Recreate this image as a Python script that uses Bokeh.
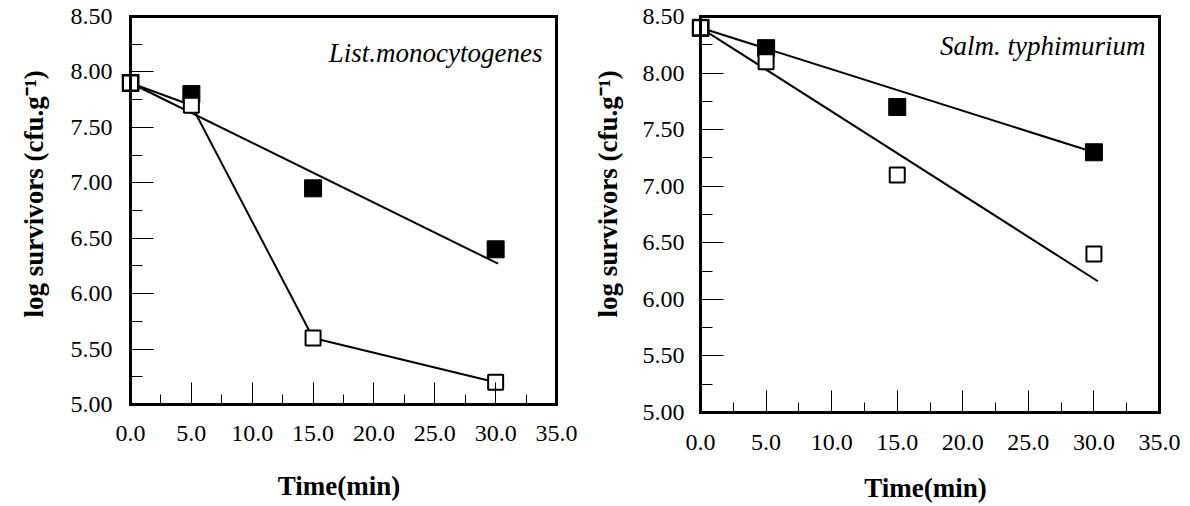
from bokeh.plotting import figure
from bokeh.layouts import row
from bokeh.models import (LinearAxis, Range1d, SingleIntervalTicker, PrintfTickFormatter,
                          FixedTicker, Label, Title, ColumnDataSource)
from bokeh.embed import file_html
from bokeh.resources import INLINE

# ---------------- data ----------------
time_min = [0, 5, 15, 30]

# List. monocytogenes
listeria_filled = [7.90, 7.80, 6.95, 6.40]
listeria_open = [7.90, 7.70, 5.60, 5.20]
listeria_fit_time = [0, 30.2]
listeria_fit_logs = [7.90, 6.27]

# Salm. typhimurium
salmonella_filled = [8.40, 8.22, 7.70, 7.30]
salmonella_open = [8.40, 8.10, 7.10, 6.40]
salmonella_fit_filled_time = [0, 30]
salmonella_fit_filled_logs = [8.40, 7.30]
salmonella_fit_open_time = [0, 30.3]
salmonella_fit_open_logs = [8.40, 6.16]

titles = ["List.monocytogenes", "Salm. typhimurium"]
x_label = "Time(min)"
y_label = "log survivors (cfu.g\u207b\u00b9)"

FONT = "Liberation Serif"


def make_panel(title, filled, open_, fit_lines, connect_open, frame_w, frame_h, x_pad,
               b_left, b_right, b_bottom, y_std, x_std, xl_std, yl_std, yl_off, title_dy):
    p = figure(frame_width=frame_w, frame_height=frame_h,
               x_range=Range1d(-x_pad, 35), y_range=Range1d(5, 8.5),
               x_axis_location=None, y_axis_location=None,
               toolbar_location=None, output_backend="svg",
               min_border_left=b_left, min_border_right=b_right,
               min_border_top=16, min_border_bottom=b_bottom,
               background_fill_color="white", border_fill_color="white",
               outline_line_color=None)
    p.grid.visible = False

    yticker = SingleIntervalTicker(interval=0.5, num_minor_ticks=2)

    # bottom axis
    xa = LinearAxis(ticker=SingleIntervalTicker(interval=5, num_minor_ticks=2),
                    formatter=PrintfTickFormatter(format="%.1f"),
                    bounds=(0, 35), axis_label=x_label)
    xa.major_label_text_font = FONT
    xa.major_label_text_font_size = "24px"
    xa.major_label_text_color = "black"
    xa.axis_label_text_font = FONT
    xa.axis_label_text_font_size = "27px"
    xa.axis_label_text_font_style = "bold"
    xa.axis_label_text_color = "black"
    xa.axis_line_width = 3
    xa.axis_line_color = "black"
    xa.axis_line_cap = "square"
    xa.major_tick_out = 0
    xa.minor_tick_out = 0
    xa.major_tick_in = 22
    xa.minor_tick_in = 10
    xa.major_tick_line_color = "black"
    xa.minor_tick_line_color = "black"
    xa.major_label_standoff = x_std
    xa.axis_label_standoff = xl_std
    p.add_layout(xa, "below")

    # left axis: tick labels only (at the frame edge)
    yl = LinearAxis(ticker=yticker, formatter=PrintfTickFormatter(format="%.2f"))
    yl.major_label_text_font = FONT
    yl.major_label_text_font_size = "24px"
    yl.major_label_text_color = "black"
    yl.axis_line_color = None
    yl.major_tick_line_color = None
    yl.minor_tick_line_color = None
    yl.major_tick_out = 0
    yl.minor_tick_out = 0
    yl.major_tick_in = 0
    yl.minor_tick_in = 0
    yl.major_label_standoff = y_std
    p.add_layout(yl, "left")

    # left axis: line and ticks at x = 0
    ya = LinearAxis(ticker=yticker, fixed_location=0)
    ya.major_label_text_color = None
    ya.major_label_text_font_size = "0px"
    ya.axis_line_width = 3
    ya.axis_line_color = "black"
    ya.axis_line_cap = "square"
    ya.major_tick_out = 0
    ya.minor_tick_out = 0
    ya.major_tick_in = 23
    ya.minor_tick_in = 12
    ya.major_tick_line_color = "black"
    ya.minor_tick_line_color = "black"
    ya.major_label_standoff = 0
    p.add_layout(ya, "left")

    # y axis title (side panel)
    p.add_layout(Title(text=y_label, align="left", vertical_align="top",
                       offset=yl_off, standoff=yl_std,
                       text_font=FONT, text_font_style="bold",
                       text_font_size="27px", text_color="black"), "left")

    # top and right frame lines
    ta = LinearAxis(ticker=FixedTicker(ticks=[]), bounds=(0, 35))
    ra = LinearAxis(ticker=FixedTicker(ticks=[]))
    for ax in (ta, ra):
        ax.major_label_text_color = None
        ax.axis_line_width = 3
        ax.axis_line_color = "black"
        ax.axis_line_cap = "square"
        ax.major_tick_line_color = None
        ax.minor_tick_line_color = None
        ax.major_tick_out = 0
        ax.major_label_standoff = 0
    p.add_layout(ta, "above")
    p.add_layout(ra, "right")

    # lines
    for fx, fy in fit_lines:
        p.line(fx, fy, line_color="black", line_width=2)
    if connect_open:
        p.line(time_min, open_, line_color="black", line_width=2)

    src_f = ColumnDataSource(dict(t=time_min, v=filled))
    src_o = ColumnDataSource(dict(t=time_min, v=open_))
    p.scatter("t", "v", source=src_f, marker="square", size=17,
              fill_color="black", line_color="black", line_width=1)
    p.scatter("t", "v", source=src_o, marker="square", size=15,
              fill_color="white", line_color="black", line_width=2)

    # species name
    p.add_layout(Label(x=35, y=8.5, x_offset=-14, y_offset=-title_dy, text=title,
                       text_align="right", text_baseline="alphabetic",
                       text_font=FONT, text_font_style="italic",
                       text_font_size="27px", text_color="black"))
    return p


left = make_panel(titles[0], listeria_filled, listeria_open,
                  [(listeria_fit_time, listeria_fit_logs)], True,
                  frame_w=435, frame_h=388, x_pad=0.74,
                  b_left=121, b_right=21, b_bottom=102,
                  y_std=9, x_std=21, xl_std=27, yl_std=34, yl_off=87, title_dy=36)

right = make_panel(titles[1], salmonella_filled, salmonella_open,
                   [(salmonella_fit_filled_time, salmonella_fit_filled_logs),
                    (salmonella_fit_open_time, salmonella_fit_open_logs)], False,
                   frame_w=468, frame_h=396, x_pad=0.69,
                   b_left=114, b_right=31, b_bottom=94,
                   y_std=7, x_std=22, xl_std=20, yl_std=30, yl_off=95, title_dy=29)

layout = row(left, right)
open("out.html", "w").write(file_html(layout, INLINE))
